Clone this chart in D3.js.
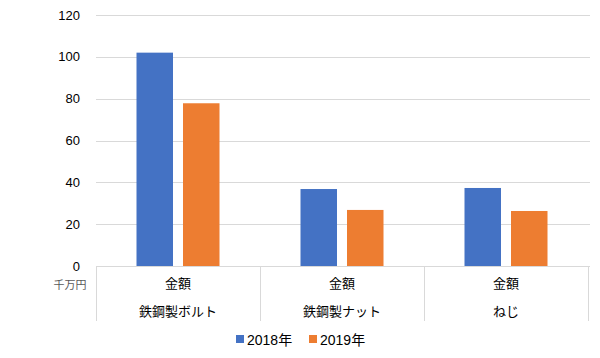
<!DOCTYPE html>
<html><head><meta charset="utf-8">
<script src="https://cdn.jsdelivr.net/npm/d3@7"></script>
<style>
body{margin:0;background:#fff;}
svg{font-family:"Liberation Sans","Noto Sans CJK JP",sans-serif;}
</style></head>
<body><svg id="c" width="600" height="358"></svg>
<script>
const categories = ["鉄鋼製ボルト", "鉄鋼製ナット", "ねじ"];
const subLabel = "金額";
const seriesNames = ["2018年", "2019年"];
const values2018 = [102, 36.8, 37.3];
const values2019 = [77.8, 26.8, 26.3];
const yTicks = [0, 20, 40, 60, 80, 100, 120];
const unitLabel = "千万円";
const colors = ["#4472C4", "#ED7D31"];

(function(){
const svg = d3.select("#c");
const mLeft = 96, mRight = 588, mTop = 15, mBottom = 266;
const y = d3.scaleLinear().domain([0, 120]).range([mBottom, mTop]);
const x = d3.scaleBand().domain(categories).range([mLeft, mRight]).padding(0);
const inner = d3.scaleBand().domain(seriesNames).range([0, x.bandwidth()]).paddingInner(0.215).paddingOuter(0.871);

// gridlines
svg.append("g").selectAll("line").data(yTicks).join("line")
  .attr("x1", mLeft).attr("x2", 590)
  .attr("y1", d => Math.round(y(d)) + 0.5).attr("y2", d => Math.round(y(d)) + 0.5)
  .attr("stroke", "#d9d9d9").attr("stroke-width", 1);

// y labels
svg.append("g").selectAll("text").data(yTicks).join("text")
  .attr("x", 80).attr("y", d => y(d)).attr("dy", "0.35em")
  .attr("text-anchor", "end").attr("font-size", 13).attr("fill", "#000")
  .text(d => d);

svg.append("text").attr("x", 70).attr("y", 289).attr("text-anchor", "middle")
  .attr("font-size", 11).attr("fill", "#595959").text(unitLabel);

// bars
const data = categories.map((c, i) => ({c, vals: [values2018[i], values2019[i]]}));
const g = svg.append("g").selectAll("g").data(data).join("g")
  .attr("transform", d => `translate(${x(d.c)},0)`);
g.selectAll("rect").data(d => d.vals.map((v, j) => ({s: seriesNames[j], v, j}))).join("rect")
  .attr("x", d => inner(d.s)).attr("width", inner.bandwidth())
  .attr("y", d => y(d.v)).attr("height", d => mBottom - y(d.v))
  .attr("fill", d => colors[d.j]);

// category dividers
const divs = categories.map(c => x(c)).concat([x(categories[categories.length-1]) + x.bandwidth()]);
svg.append("g").selectAll("line").data(divs).join("line")
  .attr("x1", d => Math.round(d) + 0.5).attr("x2", d => Math.round(d) + 0.5)
  .attr("y1", mBottom).attr("y2", 321)
  .attr("stroke", "#d9d9d9");

// category labels
const cl = svg.append("g").selectAll("g").data(categories).join("g")
  .attr("transform", c => `translate(${x(c) + x.bandwidth()/2},0)`);
cl.append("text").attr("y", 288).attr("text-anchor", "middle").attr("font-size", 13).text(subLabel);
cl.append("text").attr("y", 316).attr("text-anchor", "middle").attr("font-size", 13).text(c => c);

// legend
const legX = [236, 309];
const lg = svg.append("g").selectAll("g").data(seriesNames).join("g")
  .attr("transform", (d, i) => `translate(${legX[i]},0)`);
lg.append("rect").attr("x", 0).attr("y", 335).attr("width", 8).attr("height", 8).attr("fill", (d, i) => colors[i]);
lg.append("text").attr("x", 11).attr("y", 345).attr("font-size", 14).text(d => d);
})();
</script></body></html>
